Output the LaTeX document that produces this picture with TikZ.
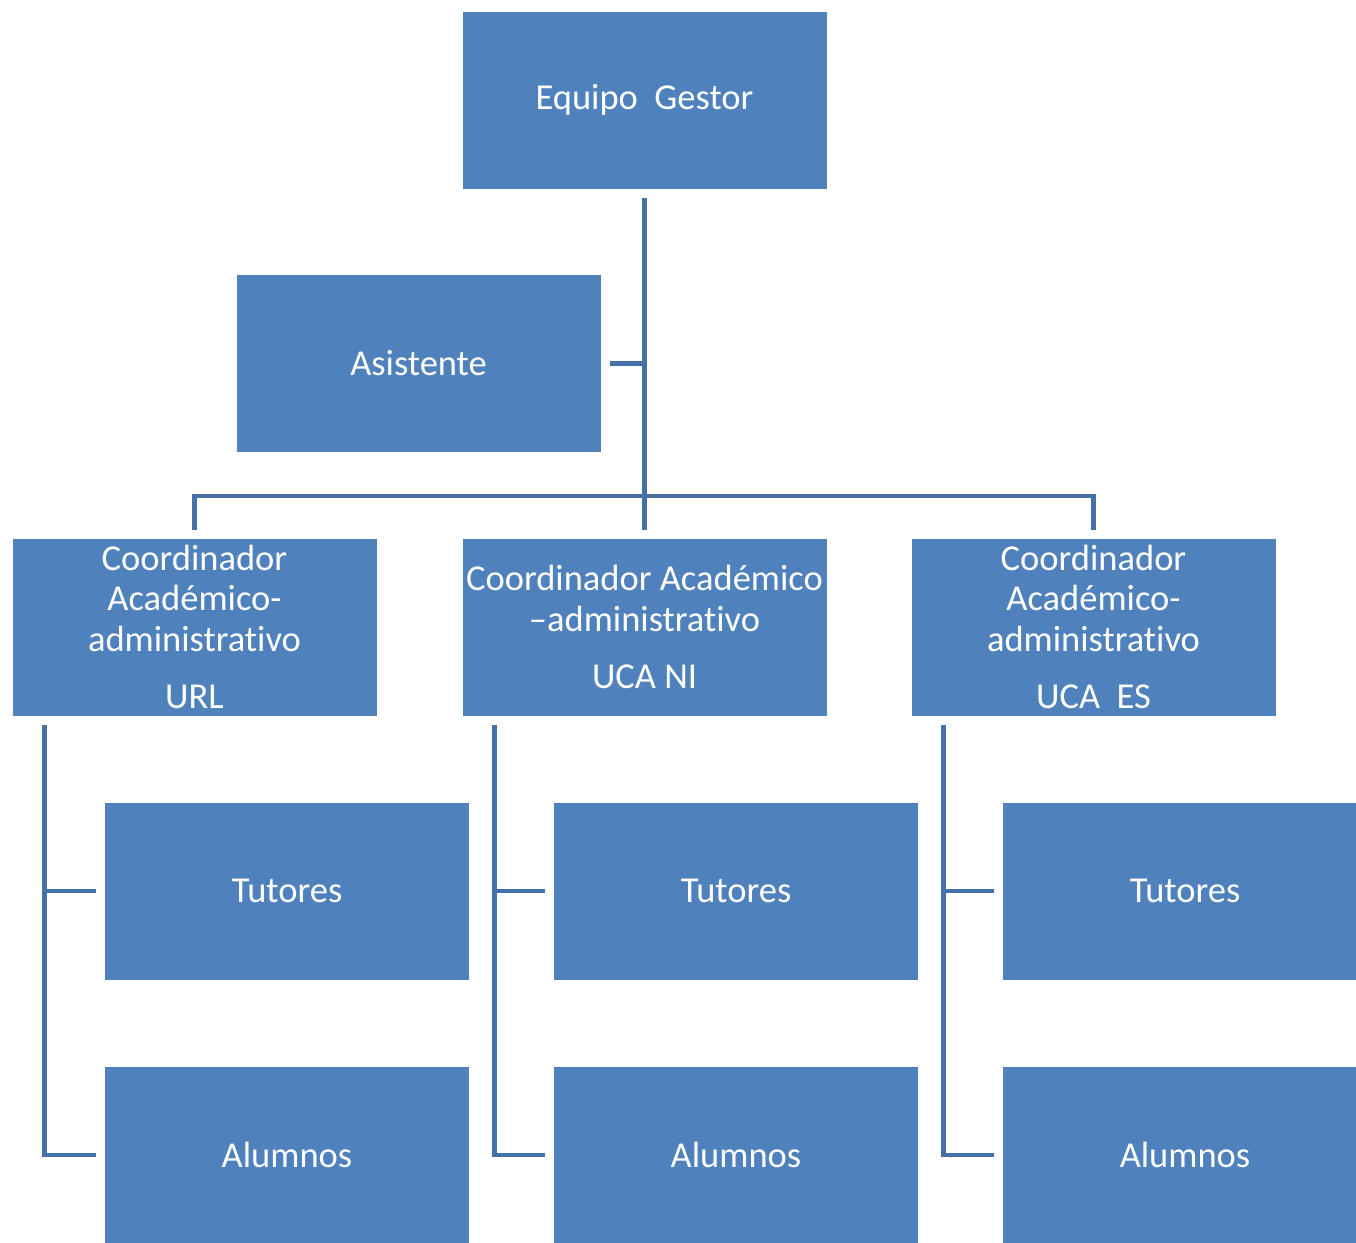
\documentclass[tikz,border=0pt]{standalone}
\usepackage{fontspec}
\setmainfont{Carlito}[Ligatures=NoCommon]
\definecolor{boxblue}{HTML}{4F81BD}
\definecolor{lineblue}{HTML}{4670A8}
\begin{document}
\begin{tikzpicture}[x=1pt,y=-1pt,
  orgbox/.style={rectangle,fill=boxblue,draw=white,line width=3pt,
    minimum width=367pt,minimum height=180pt,inner sep=0pt,
    text=white,align=center,font=\fontsize{36.5}{40.5}\selectfont},
  conn/.style={draw=lineblue,line width=4.5pt}]
\useasboundingbox (0,0) rectangle (1356,1242);
\clip (0,0) rectangle (1356,1242);
\fill[white] (0,0) rectangle (1356,1242);
% nodes
\node[orgbox] (eq) at (644.5,100) {Equipo~~Gestor};
\node[orgbox] (as) at (418.5,363.5) {Asistente};
\node[orgbox] (url) at (194.5,627) {Coordinador\\Académico-\\administrativo\\[17pt]URL};
\node[orgbox] (ni) at (644.5,627) {Coordinador Académico\\–administrativo\\[17pt]UCA NI};
\node[orgbox] (es) at (1093.5,627) {Coordinador\\Académico-\\administrativo\\[17pt]UCA~~ES};
\node[orgbox] (t1) at (287,891) {Tutores};
\node[orgbox] (t2) at (736,891) {Tutores};
\node[orgbox] (t3) at (1185,891) {Tutores};
\node[orgbox] (a1) at (287,1155) {Alumnos};
\node[orgbox] (a2) at (736,1155) {Alumnos};
\node[orgbox] (a3) at (1185,1155) {Alumnos};
\coordinate (bar) at (644,496);
% connectors, shortened to leave a white gap at each box
\draw[conn,shorten <=6pt,shorten >=6pt] (eq.south) -- (ni.north);
\draw[conn,shorten <=6pt] (as.east) -- (as.east -| eq.south);
\draw[conn,shorten <=6pt,shorten >=6pt,line join=miter] (url.north) -- (url.north |- bar) -- (es.north |- bar) -- (es.north);
\foreach \c/\t/\a in {url/t1/a1, ni/t2/a2, es/t3/a3}{
  \draw[conn,shorten <=6pt,shorten >=6pt,line join=miter] ([xshift=35pt]\c.south west) |- (\t.west);
  \draw[conn,shorten <=6pt,shorten >=6pt,line join=miter] ([xshift=35pt]\c.south west) |- (\a.west);
}
\end{tikzpicture}
\end{document}
